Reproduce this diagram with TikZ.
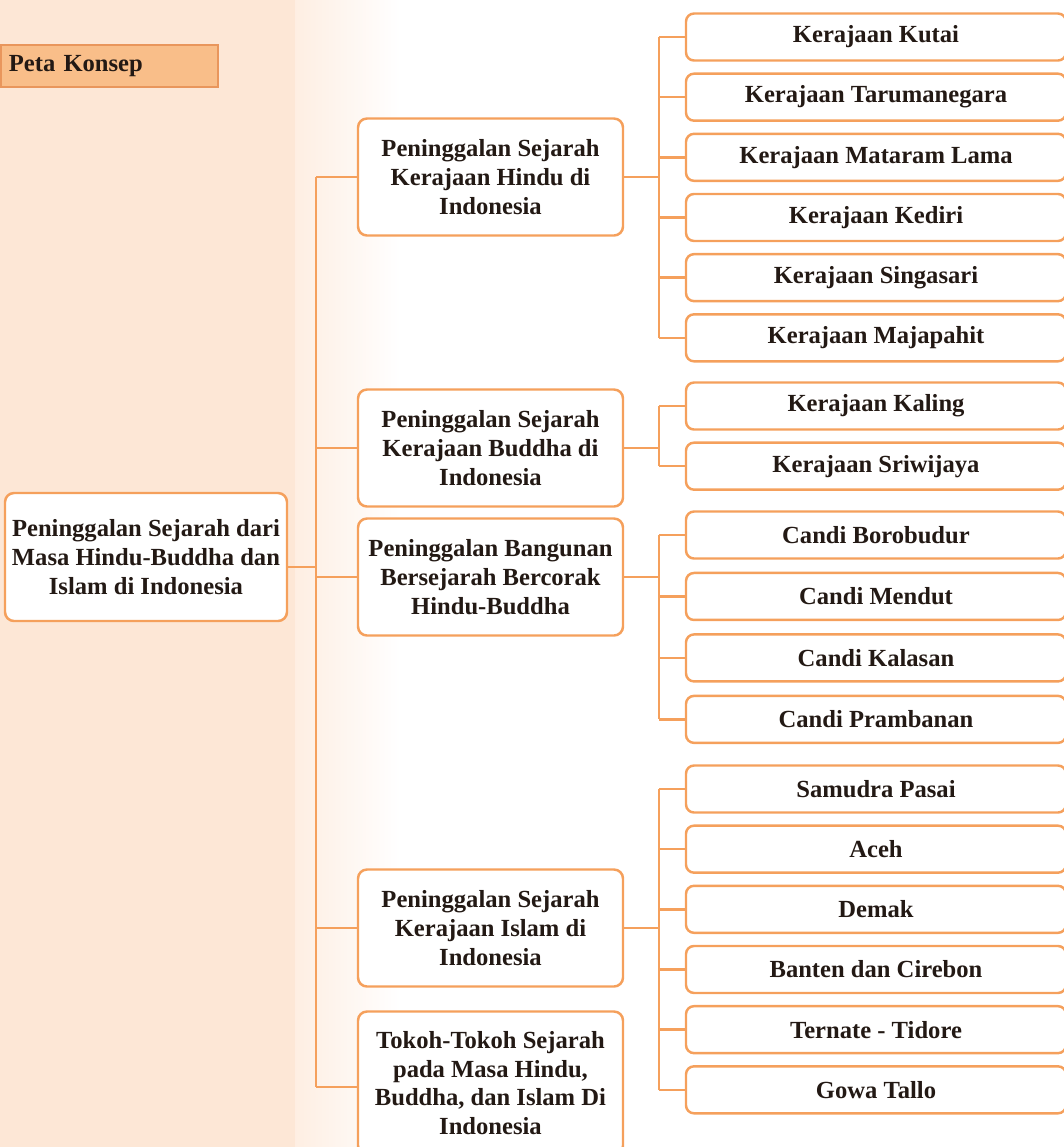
\documentclass[tikz,border=0pt]{standalone}
\usepackage{fontspec}
\setmainfont{Liberation Serif}
\usepackage{tikz}
\usetikzlibrary{positioning}

\definecolor{lineorange}{RGB}{245,160,92}
\definecolor{tagfill}{RGB}{249,190,137}
\definecolor{tagline}{RGB}{233,150,92}
\definecolor{bgpeach}{RGB}{253,231,214}
\definecolor{inktext}{RGB}{35,25,20}

\begin{document}
\begin{tikzpicture}[
    node distance=0.214cm,
    every node/.style={font=\fontsize{14}{16.4}\selectfont\bfseries, text=inktext},
    tagbox/.style={rectangle, draw=tagline, fill=tagfill, line width=1pt, minimum width=4.34cm, minimum height=0.84cm, text width=4.02cm, align=left, inner xsep=0.16cm},
    rootbox/.style={rectangle, draw=lineorange, fill=white, rounded corners=0.18cm, line width=1.4pt, minimum width=5.64cm, minimum height=2.56cm, align=center},
    midbox/.style={rectangle, draw=lineorange, fill=white, rounded corners=0.18cm, line width=1.4pt, minimum width=5.3cm, minimum height=2.34cm, align=center},
    leafbox/.style={rectangle, draw=lineorange, fill=white, rounded corners=0.16cm, line width=1.4pt, minimum width=7.6cm, minimum height=0.94cm, align=center},
    link/.style={draw=lineorange, line width=1.4pt}
]
    % background
    \useasboundingbox (0,0) rectangle (21.28,-22.94);
    \fill[bgpeach] (0,0) rectangle (5.9,-22.94);
    \shade[left color=bgpeach!70, right color=white] (5.9,0) rectangle (8.0,-22.94);

    \node[tagbox, anchor=west] (tag) at (0,-1.32) {Peta Konsep};
    \node[rootbox] (root) at (2.92,-11.14) {Peninggalan Sejarah dari\\Masa Hindu-Buddha dan\\Islam di Indonesia};

    % second level
    \node[midbox] (hindu) at (9.81,-3.54) {Peninggalan Sejarah\\Kerajaan Hindu di\\Indonesia};
    \node[midbox] (buddha) at (9.81,-8.96) {Peninggalan Sejarah\\Kerajaan Buddha di\\Indonesia};
    \node[midbox] (bangunan) at (9.81,-11.54) {Peninggalan Bangunan\\Bersejarah Bercorak\\Hindu-Buddha};
    \node[midbox] (islam) at (9.81,-18.56) {Peninggalan Sejarah\\Kerajaan Islam di\\Indonesia};
    \node[midbox, minimum height=2.86cm] (tokoh) at (9.81,-21.66) {Tokoh-Tokoh Sejarah\\pada Masa Hindu,\\Buddha, dan Islam Di\\Indonesia};

    % third level
    \node[leafbox] (kutai) at (17.52,-0.74) {Kerajaan Kutai};
    \node[leafbox, below=of kutai] (taruma) {Kerajaan Tarumanegara};
    \node[leafbox, below=of taruma] (mataram) {Kerajaan Mataram Lama};
    \node[leafbox, below=of mataram] (kediri) {Kerajaan Kediri};
    \node[leafbox, below=of kediri] (singasari) {Kerajaan Singasari};
    \node[leafbox, below=of singasari] (majapahit) {Kerajaan Majapahit};

    \node[leafbox] (kaling) at (17.52,-8.12) {Kerajaan Kaling};
    \node[leafbox, below=of kaling] (sriwijaya) {Kerajaan Sriwijaya};

    \node[leafbox] (borobudur) at (17.52,-10.70) {Candi Borobudur};
    \node[leafbox, below=0.24cm of borobudur] (mendut) {Candi Mendut};
    \node[leafbox, below=0.24cm of mendut] (kalasan) {Candi Kalasan};
    \node[leafbox, below=0.24cm of kalasan] (prambanan) {Candi Prambanan};

    \node[leafbox] (pasai) at (17.52,-15.78) {Samudra Pasai};
    \node[leafbox, below=of pasai] (aceh) {Aceh};
    \node[leafbox, below=of aceh] (demak) {Demak};
    \node[leafbox, below=of demak] (banten) {Banten dan Cirebon};
    \node[leafbox, below=of banten] (ternate) {Ternate - Tidore};
    \node[leafbox, below=of ternate] (gowa) {Gowa Tallo};

    \coordinate (trunk) at (6.32,0);
    \coordinate (fork) at (13.18,0);

    % root to second level
    \draw[link] ([yshift=-0.2cm]root.east) -- ([yshift=-0.2cm]root.east -| trunk);
    \draw[link] (hindu.west -| trunk) -- ([yshift=-0.08cm]tokoh.west -| trunk);
    \draw[link] (hindu.west) -- (hindu.west -| trunk);
    \draw[link] (buddha.west) -- (buddha.west -| trunk);
    \draw[link] (bangunan.west) -- (bangunan.west -| trunk);
    \draw[link] (islam.west) -- (islam.west -| trunk);
    \draw[link] ([yshift=-0.08cm]tokoh.west) -- ([yshift=-0.08cm]tokoh.west -| trunk);

    % Hindu
    \draw[link] (hindu.east) -- (hindu.east -| fork);
    \draw[link] (kutai.west -| fork) -- (majapahit.west -| fork);
    \draw[link] (kutai.west) -- (kutai.west -| fork);
    \draw[link] (taruma.west) -- (taruma.west -| fork);
    \draw[link] (mataram.west) -- (mataram.west -| fork);
    \draw[link] (kediri.west) -- (kediri.west -| fork);
    \draw[link] (singasari.west) -- (singasari.west -| fork);
    \draw[link] (majapahit.west) -- (majapahit.west -| fork);

    % Buddha
    \draw[link] (buddha.east) -- (buddha.east -| fork);
    \draw[link] (kaling.west -| fork) -- (sriwijaya.west -| fork);
    \draw[link] (kaling.west) -- (kaling.west -| fork);
    \draw[link] (sriwijaya.west) -- (sriwijaya.west -| fork);

    % Bangunan
    \draw[link] (bangunan.east) -- (bangunan.east -| fork);
    \draw[link] (borobudur.west -| fork) -- (prambanan.west -| fork);
    \draw[link] (borobudur.west) -- (borobudur.west -| fork);
    \draw[link] (mendut.west) -- (mendut.west -| fork);
    \draw[link] (kalasan.west) -- (kalasan.west -| fork);
    \draw[link] (prambanan.west) -- (prambanan.west -| fork);

    % Islam
    \draw[link] (islam.east) -- (islam.east -| fork);
    \draw[link] (pasai.west -| fork) -- (gowa.west -| fork);
    \draw[link] (pasai.west) -- (pasai.west -| fork);
    \draw[link] (aceh.west) -- (aceh.west -| fork);
    \draw[link] (demak.west) -- (demak.west -| fork);
    \draw[link] (banten.west) -- (banten.west -| fork);
    \draw[link] (ternate.west) -- (ternate.west -| fork);
    \draw[link] (gowa.west) -- (gowa.west -| fork);
\end{tikzpicture}
\end{document}
